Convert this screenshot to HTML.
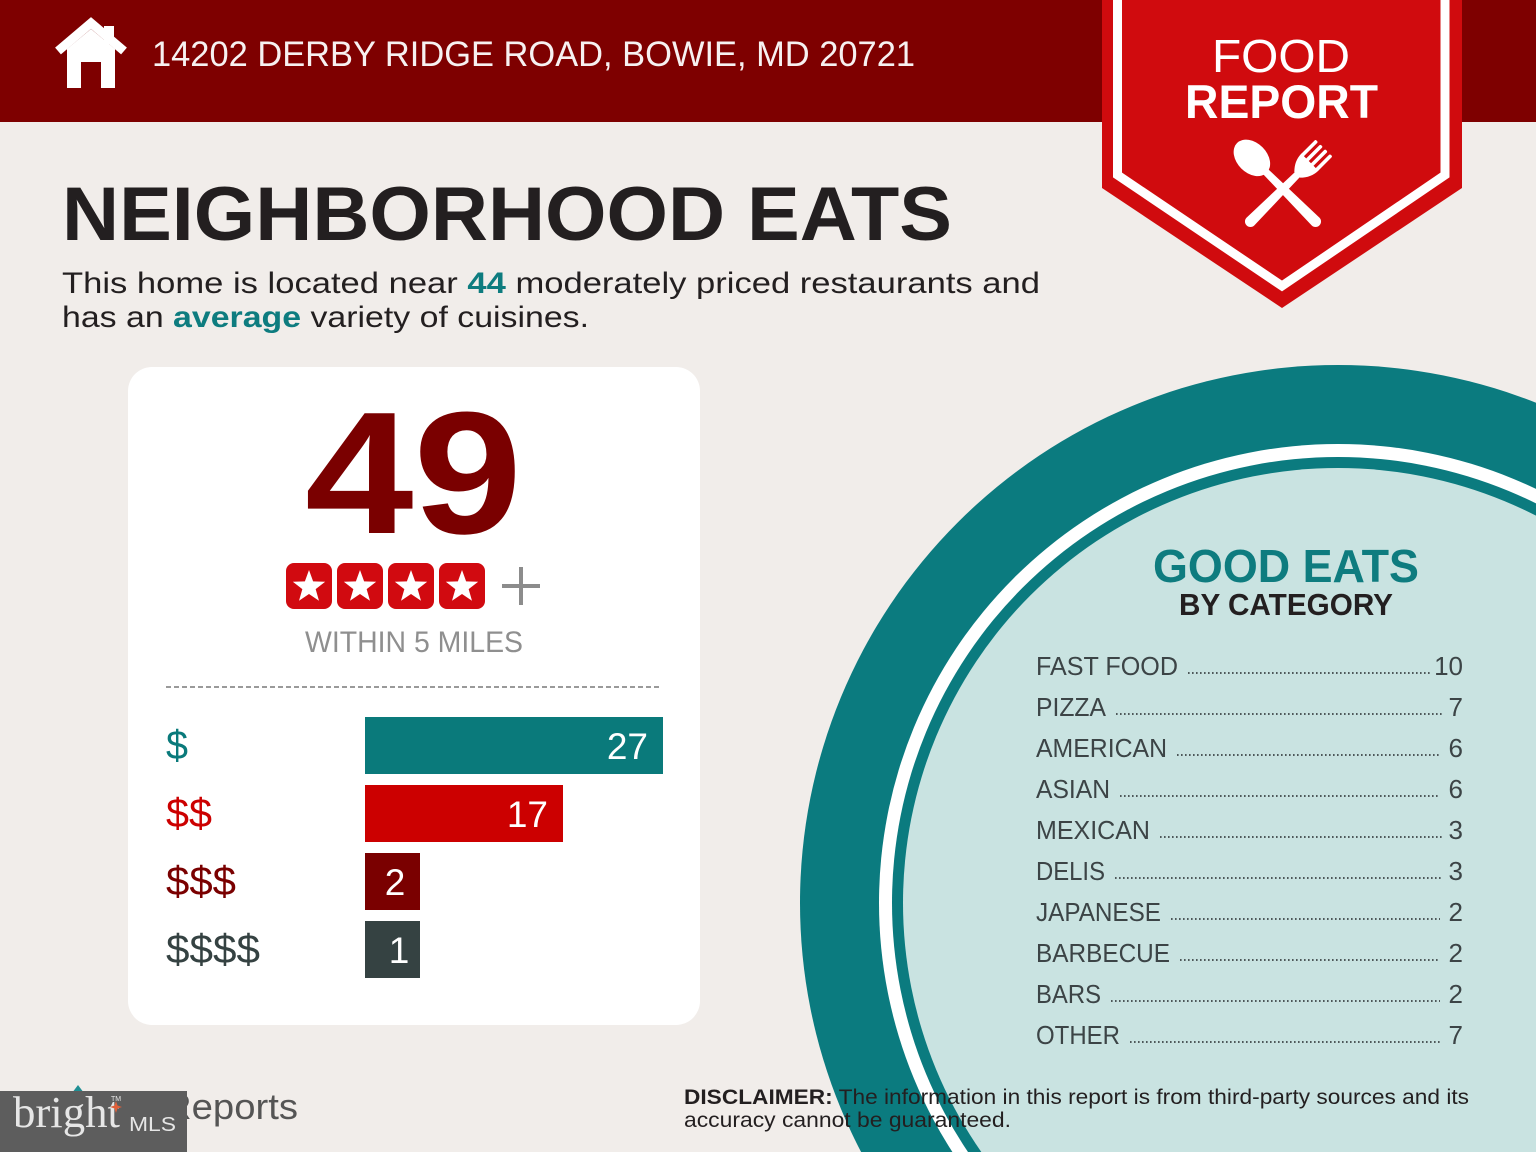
<!DOCTYPE html>
<html>
<head>
<meta charset="utf-8">
<style>
  html, body { margin:0; padding:0; background:#f1edea; width:1536px; height:1152px; overflow:hidden; }
  svg { display:block; font-family:"Liberation Sans", sans-serif; }
</style>
</head>
<body>
<svg width="1536" height="1152" viewBox="0 0 1536 1152" xmlns="http://www.w3.org/2000/svg">
  <!-- background -->
  <rect x="0" y="0" width="1536" height="1152" fill="#f1edea"/>

  <!-- big circle -->
  <circle cx="1338" cy="903" r="538" fill="#0b7b7f"/>
  <circle cx="1338" cy="903" r="459" fill="#ffffff"/>
  <circle cx="1338" cy="903" r="446" fill="#0b7b7f"/>
  <circle cx="1338" cy="903" r="435" fill="#c9e3e1"/>

  <!-- header -->
  <rect x="0" y="0" width="1536" height="122" fill="#7e0000"/>

  <!-- house icon -->
  <rect x="104" y="26" width="10" height="18" fill="#ffffff"/>
  <polygon points="67,49 91,29 115,49 115,88 101,88 101,62 81,62 81,88 67,88" fill="#ffffff"/>
  <polyline points="58,51 91,23 124,51" fill="none" stroke="#ffffff" stroke-width="9" stroke-linejoin="miter"/>

  <text x="152" y="66" font-size="35" fill="#f7f1f1" textLength="763" lengthAdjust="spacingAndGlyphs">14202 DERBY RIDGE ROAD, BOWIE, MD 20721</text>

  <!-- banner -->
  <path d="M1102,0 V188 L1282,308 L1462,188 V0 Z" fill="#d00b0e"/>
  <polyline points="1117.5,0 1117.5,175 1282,286 1445,175 1445,0" fill="none" stroke="#ffffff" stroke-width="9" stroke-linejoin="miter"/>
  <text x="1212" y="72" font-size="46" fill="#ffffff" textLength="138" lengthAdjust="spacingAndGlyphs">FOOD</text>
  <text x="1185" y="118" font-size="47" font-weight="bold" fill="#ffffff" textLength="193" lengthAdjust="spacingAndGlyphs">REPORT</text>

  <!-- spoon -->
  <g transform="translate(1283,189) rotate(-45)" fill="#ffffff">
    <ellipse cx="0" cy="-44" rx="15" ry="21"/>
    <path d="M-3.5,-26 L3.5,-26 L5.5,46 A5.5,5.5 0 0 1 -5.5,46 Z"/>
  </g>
  <!-- fork -->
  <g transform="translate(1283,189) rotate(45)" fill="#ffffff">
    <path d="M-3.5,-22 L3.5,-22 L5.5,46 A5.5,5.5 0 0 1 -5.5,46 Z"/>
    <path d="M-4,-20 Q-12,-28 -12,-38 L12,-38 Q12,-28 4,-20 Z"/>
    <rect x="-12" y="-58" width="3.6" height="22" rx="1.5"/>
    <rect x="-5.2" y="-58" width="3.6" height="22" rx="1.5"/>
    <rect x="1.6" y="-58" width="3.6" height="22" rx="1.5"/>
    <rect x="8.4" y="-58" width="3.6" height="22" rx="1.5"/>
  </g>

  <!-- title -->
  <text x="62" y="240" font-size="76" font-weight="bold" fill="#231f20" textLength="890" lengthAdjust="spacingAndGlyphs">NEIGHBORHOOD EATS</text>
  <text x="62" y="293" font-size="30" fill="#231f20" textLength="978" lengthAdjust="spacingAndGlyphs">This home is located near <tspan font-weight="bold" fill="#0e7c7f">44</tspan> moderately priced restaurants and</text>
  <text x="62" y="327" font-size="30" fill="#231f20" textLength="527" lengthAdjust="spacingAndGlyphs">has an <tspan font-weight="bold" fill="#0e7c7f">average</tspan> variety of cuisines.</text>

  <!-- card -->
  <rect x="128" y="367" width="572" height="658" rx="24" ry="24" fill="#ffffff"/>
  <text x="305" y="533" font-size="174" font-weight="bold" fill="#7a0000" textLength="217" lengthAdjust="spacingAndGlyphs">49</text>

  <!-- stars -->
  <g fill="#d10a10">
    <rect x="286" y="563" width="46" height="46" rx="8"/>
    <rect x="337" y="563" width="46" height="46" rx="8"/>
    <rect x="388" y="563" width="46" height="46" rx="8"/>
    <rect x="439" y="563" width="46" height="46" rx="8"/>
  </g>
  <g fill="#ffffff">
    <polygon transform="translate(309,587)" points="0,-17 4.11,-5.66 16.17,-5.25 6.66,2.16 9.99,13.75 0,7 -9.99,13.75 -6.66,2.16 -16.17,-5.25 -4.11,-5.66"/>
    <polygon transform="translate(360,587)" points="0,-17 4.11,-5.66 16.17,-5.25 6.66,2.16 9.99,13.75 0,7 -9.99,13.75 -6.66,2.16 -16.17,-5.25 -4.11,-5.66"/>
    <polygon transform="translate(411,587)" points="0,-17 4.11,-5.66 16.17,-5.25 6.66,2.16 9.99,13.75 0,7 -9.99,13.75 -6.66,2.16 -16.17,-5.25 -4.11,-5.66"/>
    <polygon transform="translate(462,587)" points="0,-17 4.11,-5.66 16.17,-5.25 6.66,2.16 9.99,13.75 0,7 -9.99,13.75 -6.66,2.16 -16.17,-5.25 -4.11,-5.66"/>
  </g>
  <g stroke="#8c8c8c" stroke-width="4">
    <line x1="502" y1="586" x2="540" y2="586"/>
    <line x1="521" y1="567" x2="521" y2="605"/>
  </g>
  <text x="305" y="652" font-size="30" fill="#8f8f8f" textLength="218" lengthAdjust="spacingAndGlyphs">WITHIN 5 MILES</text>
  <line x1="166" y1="687" x2="662" y2="687" stroke="#9a9a9a" stroke-width="2" stroke-dasharray="5 3"/>

  <!-- bars -->
  <rect x="365" y="717" width="298" height="57" fill="#0a7a7b"/>
  <rect x="365" y="785" width="198" height="57" fill="#cc0000"/>
  <rect x="365" y="853" width="55" height="57" fill="#7a0000"/>
  <rect x="365" y="921" width="55" height="57" fill="#354242"/>

  <g font-size="37" fill="#ffffff">
    <text x="648" y="759" text-anchor="end">27</text>
    <text x="548" y="827" text-anchor="end">17</text>
    <text x="395" y="895" text-anchor="middle">2</text>
    <text x="399" y="963" text-anchor="middle">1</text>
  </g>
  <g font-size="41">
    <text x="166" y="759" fill="#0a7a7b" textLength="22" lengthAdjust="spacingAndGlyphs">$</text>
    <text x="166" y="827" fill="#cc0000" textLength="46" lengthAdjust="spacingAndGlyphs">$$</text>
    <text x="166" y="895" fill="#7a0000" textLength="70" lengthAdjust="spacingAndGlyphs">$$$</text>
    <text x="166" y="963" fill="#354242" textLength="94" lengthAdjust="spacingAndGlyphs">$$$$</text>
  </g>

  <!-- good eats -->
  <text x="1153" y="582" font-size="46" font-weight="bold" fill="#0e7c7f" textLength="266" lengthAdjust="spacingAndGlyphs">GOOD EATS</text>
  <text x="1179" y="615" font-size="31" font-weight="bold" fill="#231f20" textLength="214" lengthAdjust="spacingAndGlyphs">BY CATEGORY</text>

  <g font-size="26" fill="#3c4446">
    <text x="1036" y="675" textLength="142" lengthAdjust="spacingAndGlyphs">FAST FOOD</text>
    <text x="1463" y="675" text-anchor="end">10</text>
    <text x="1036" y="716" textLength="70" lengthAdjust="spacingAndGlyphs">PIZZA</text>
    <text x="1463" y="716" text-anchor="end">7</text>
    <text x="1036" y="757" textLength="131" lengthAdjust="spacingAndGlyphs">AMERICAN</text>
    <text x="1463" y="757" text-anchor="end">6</text>
    <text x="1036" y="798" textLength="74" lengthAdjust="spacingAndGlyphs">ASIAN</text>
    <text x="1463" y="798" text-anchor="end">6</text>
    <text x="1036" y="839" textLength="114" lengthAdjust="spacingAndGlyphs">MEXICAN</text>
    <text x="1463" y="839" text-anchor="end">3</text>
    <text x="1036" y="880" textLength="69" lengthAdjust="spacingAndGlyphs">DELIS</text>
    <text x="1463" y="880" text-anchor="end">3</text>
    <text x="1036" y="921" textLength="125" lengthAdjust="spacingAndGlyphs">JAPANESE</text>
    <text x="1463" y="921" text-anchor="end">2</text>
    <text x="1036" y="962" textLength="134" lengthAdjust="spacingAndGlyphs">BARBECUE</text>
    <text x="1463" y="962" text-anchor="end">2</text>
    <text x="1036" y="1003" textLength="65" lengthAdjust="spacingAndGlyphs">BARS</text>
    <text x="1463" y="1003" text-anchor="end">2</text>
    <text x="1036" y="1044" textLength="84" lengthAdjust="spacingAndGlyphs">OTHER</text>
    <text x="1463" y="1044" text-anchor="end">7</text>
  </g>
  <g stroke="#3c4446" stroke-width="1.8" stroke-dasharray="1.6 2.4">
    <line x1="1188" y1="673" x2="1431" y2="673"/>
    <line x1="1116" y1="714" x2="1442" y2="714"/>
    <line x1="1177" y1="755" x2="1440" y2="755"/>
    <line x1="1120" y1="796" x2="1440" y2="796"/>
    <line x1="1160" y1="837" x2="1442" y2="837"/>
    <line x1="1115" y1="878" x2="1442" y2="878"/>
    <line x1="1171" y1="919" x2="1440" y2="919"/>
    <line x1="1180" y1="960" x2="1440" y2="960"/>
    <line x1="1111" y1="1001" x2="1440" y2="1001"/>
    <line x1="1130" y1="1042" x2="1442" y2="1042"/>
  </g>

  <!-- disclaimer -->
  <text x="684" y="1104" font-size="21" fill="#231f20" textLength="785" lengthAdjust="spacingAndGlyphs"><tspan font-weight="bold">DISCLAIMER:</tspan> The information in this report is from third-party sources and its</text>
  <text x="684" y="1127" font-size="21" fill="#231f20" textLength="327" lengthAdjust="spacingAndGlyphs">accuracy cannot be guaranteed.</text>

  <!-- reports logo -->
  <path d="M72,1093 L78,1085 L84,1093 Z" fill="#1f8f94"/>
  <text x="164" y="1119" font-size="36" fill="#555555" textLength="134" lengthAdjust="spacingAndGlyphs">Reports</text>

  <!-- bright MLS box -->
  <rect x="0" y="1091" width="187" height="61" fill="#5d5d5d"/>
  <text x="13" y="1127" font-family="Liberation Serif, serif" font-size="44" fill="#e6e6e6" textLength="107" lengthAdjust="spacingAndGlyphs">bright</text>
  <polygon transform="translate(116,1107)" points="0,-6 1.5,-1.5 6,0 1.5,1.5 0,6 -1.5,1.5 -6,0 -1.5,-1.5" fill="#e0603a"/>
  <text x="111" y="1101" font-size="7" fill="#e6e6e6">TM</text>
  <text x="129" y="1131" font-size="20" fill="#e6e6e6" textLength="47" lengthAdjust="spacingAndGlyphs">MLS</text>
</svg>
</body>
</html>
